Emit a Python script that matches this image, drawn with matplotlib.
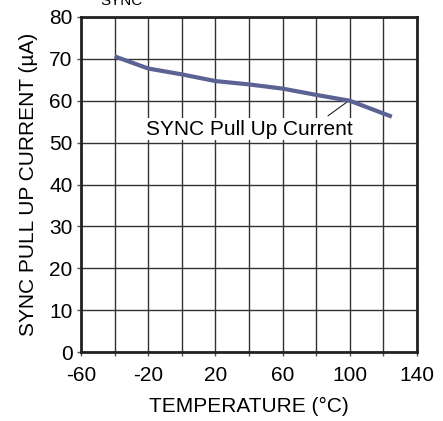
import numpy as np
import matplotlib.pyplot as plt

plt.rcParams['font.family'] = ['Liberation Sans', 'DejaVu Sans']
plt.rcParams['axes.unicode_minus'] = False

# data
temp = [-40, -20, 0, 20, 40, 60, 80, 100, 125]
current = [70.6, 67.7, 66.3, 64.7, 63.9, 62.9, 61.4, 60.0, 56.2]
xticks = [-60, -20, 20, 60, 100, 140]
yticks = [0, 10, 20, 30, 40, 50, 60, 70, 80]

fig = plt.figure(figsize=(4.43, 4.21), dpi=100)
ax = fig.add_axes([81/443, 1-352/421, 336/443, 335/421])

ax.plot(temp, current, color='#5b6294', lw=3, solid_capstyle='butt', zorder=3)

ax.set_xlim(-60, 140)
ax.set_ylim(0, 80)
ax.set_xticks(np.arange(-60, 141, 20), minor=True)
ax.set_xticks(xticks)
ax.set_yticks(yticks)
ax.grid(True, which='both', color='#333333', lw=1)
ax.tick_params(which='both', direction='out', length=3, width=1, color='#555555',
               labelsize=15)
ax.tick_params(axis='x', pad=7)
ax.tick_params(axis='y', pad=3)
for s in ax.spines.values():
    s.set_linewidth(2)
    s.set_color('#222222')

ax.set_xlabel('TEMPERATURE (°C)', fontsize=15, labelpad=9)
ax.set_ylabel('SYNC PULL UP CURRENT (µA)', fontsize=15, labelpad=8)

ax.text(40, 53.2, 'SYNC Pull Up Current', ha='center', va='center',
        fontsize=15, zorder=4,
        bbox=dict(facecolor='white', edgecolor='none', pad=1.0))
ax.annotate('', xy=(98, 59.6), xytext=(87, 56.4), zorder=5,
            arrowprops=dict(arrowstyle='-', color='#222222', lw=0.8,
                            shrinkA=0, shrinkB=0))

# cut off title at top
fig.text(100/443, 1 - 5/421, 'SYNC', fontsize=11, va='baseline', ha='left')

fig.savefig('out.png', dpi=100)
